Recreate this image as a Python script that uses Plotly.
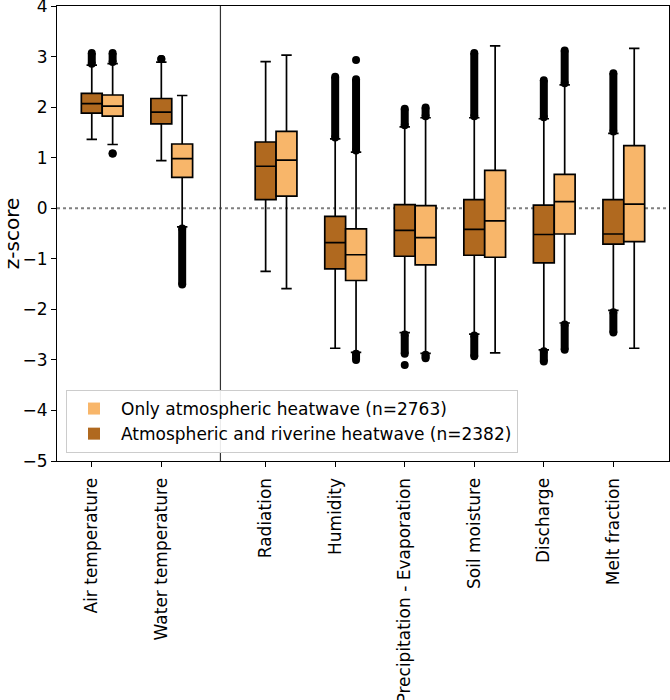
import plotly.graph_objects as go

categories = ["Air temperature", "Water temperature", "Radiation", "Humidity",
              "Precipitation - Evaporation", "Soil moisture", "Discharge", "Melt fraction"]
positions = [0, 1, 2.5, 3.5, 4.5, 5.5, 6.5, 7.5]
offset_light = 0.3

# Atmospheric and riverine heatwave (dark)
dark_q1 = [1.88, 1.67, 0.17, -1.20, -0.95, -0.93, -1.08, -0.71]
dark_med = [2.07, 1.90, 0.83, -0.68, -0.44, -0.42, -0.52, -0.51]
dark_q3 = [2.27, 2.17, 1.31, -0.16, 0.07, 0.17, 0.06, 0.17]
dark_lo = [1.36, 0.94, -1.25, -2.77, -2.46, -2.49, -2.80, -2.02]
dark_hi = [2.83, 2.89, 2.90, 1.37, 1.61, 1.79, 1.77, 1.48]
dark_out_hi = [[2.86, 3.07], [2.95, 2.95], None, [1.40, 2.60], [1.64, 1.97], [1.82, 3.07], [1.80, 2.53], [1.52, 2.67]]
dark_out_lo = [None, None, None, None, [-2.50, -2.88], [-2.52, -2.93], [-2.83, -3.03], [-2.06, -2.46]]
dark_out_single = [None, None, None, None, -3.10, None, None, None]

# Only atmospheric heatwave (light)
light_q1 = [1.82, 0.61, 0.24, -1.43, -1.12, -0.97, -0.51, -0.66]
light_med = [2.02, 0.98, 0.95, -0.92, -0.58, -0.25, 0.13, 0.08]
light_q3 = [2.24, 1.27, 1.52, -0.41, 0.05, 0.75, 0.67, 1.24]
light_lo = [1.26, -0.37, -1.59, -2.85, -2.87, -2.86, -2.27, -2.77]
light_hi = [2.86, 2.23, 3.03, 1.11, 1.79, 3.21, 2.44, 3.16]
light_out_hi = [[2.89, 3.07], None, None, [1.14, 2.55], [1.82, 1.99], None, [2.47, 3.12], None]
light_out_lo = [[1.08, 1.08], [-0.40, -1.51], None, [-2.88, -3.00], [-2.90, -2.97], None, [-2.30, -2.80], None]
light_out_single = [None, None, None, 2.93, None, None, None, None]

dark_color = "#b0691f"
light_color = "#f8b66a"
dark_label = "Atmospheric and riverine heatwave (n=2382)"
light_label = "Only atmospheric heatwave (n=2763)"

fig = go.Figure()

light_x = [p + offset_light for p in positions]

fig.add_trace(go.Box(
    x=positions, q1=dark_q1, median=dark_med, q3=dark_q3,
    lowerfence=dark_lo, upperfence=dark_hi,
    width=0.3, whiskerwidth=0.5, boxpoints=False,
    fillcolor=dark_color, line=dict(color="black", width=1.7),
    name=dark_label, showlegend=False,
))
fig.add_trace(go.Box(
    x=light_x, q1=light_q1, median=light_med, q3=light_q3,
    lowerfence=light_lo, upperfence=light_hi,
    width=0.3, whiskerwidth=0.5, boxpoints=False,
    fillcolor=light_color, line=dict(color="black", width=1.7),
    name=light_label, showlegend=False,
))


def add_outliers(xs, ranges):
    for x, r in zip(xs, ranges):
        if r is None:
            continue
        fig.add_trace(go.Scatter(
            x=[x, x], y=r, mode="lines+markers",
            line=dict(color="black", width=8),
            marker=dict(color="black", size=8),
            showlegend=False, hoverinfo="skip",
        ))


def add_singles(xs, vals):
    px = [x for x, v in zip(xs, vals) if v is not None]
    py = [v for v in vals if v is not None]
    fig.add_trace(go.Scatter(
        x=px, y=py, mode="markers",
        marker=dict(color="black", size=8),
        showlegend=False, hoverinfo="skip",
    ))


add_outliers(positions, dark_out_hi)
add_outliers(positions, dark_out_lo)
add_singles(positions, dark_out_single)
add_outliers(light_x, light_out_hi)
add_outliers(light_x, light_out_lo)
add_singles(light_x, light_out_single)

# legend entries (filled patches like the reference)
fig.add_trace(go.Bar(x=[None], y=[None], name=light_label,
                     marker=dict(color=light_color, line=dict(width=0)), legendrank=1))
fig.add_trace(go.Bar(x=[None], y=[None], name=dark_label,
                     marker=dict(color=dark_color, line=dict(width=0)), legendrank=2))

# zero line and separator
fig.add_shape(type="line", xref="paper", yref="y", x0=0, x1=1, y0=0, y1=0,
              line=dict(color="gray", width=2, dash="dot"), layer="below")
fig.add_shape(type="line", xref="x", yref="paper", x0=1.85, x1=1.85, y0=0, y1=1,
              line=dict(color="#333333", width=1.2))

fig.update_layout(
    width=670, height=700,
    margin=dict(l=57, r=1, t=6, b=239),
    plot_bgcolor="white", paper_bgcolor="white",
    font=dict(family="DejaVu Sans", size=17, color="black"),
    showlegend=True,
    legend=dict(x=0.0147, y=0.0176, xanchor="left", yanchor="bottom",
                bgcolor="rgba(255,255,255,0.9)", bordercolor="#cccccc", borderwidth=1,
                font=dict(size=17), itemwidth=44, tracegroupgap=0),
)
fig.update_xaxes(
    range=[-0.5, 8.3], tickmode="array", tickvals=positions, ticktext=categories,
    tickangle=-90, showline=True, mirror=True, linecolor="black", linewidth=1.2,
    ticks="outside", ticklen=5, tickcolor="black", showgrid=False, zeroline=False,
    ticklabelstandoff=4, automargin=False, ticklabeloverflow="allow",
)
fig.update_yaxes(
    range=[-5, 4], tickmode="array", tickvals=list(range(-5, 5)),
    showline=True, mirror=True, linecolor="black", linewidth=1.2,
    ticks="outside", ticklen=5, tickcolor="black", showgrid=False, zeroline=False,
    title=dict(text="z-score", standoff=6), automargin=False, ticklabeloverflow="allow",
)

fig.write_html("out.html")
